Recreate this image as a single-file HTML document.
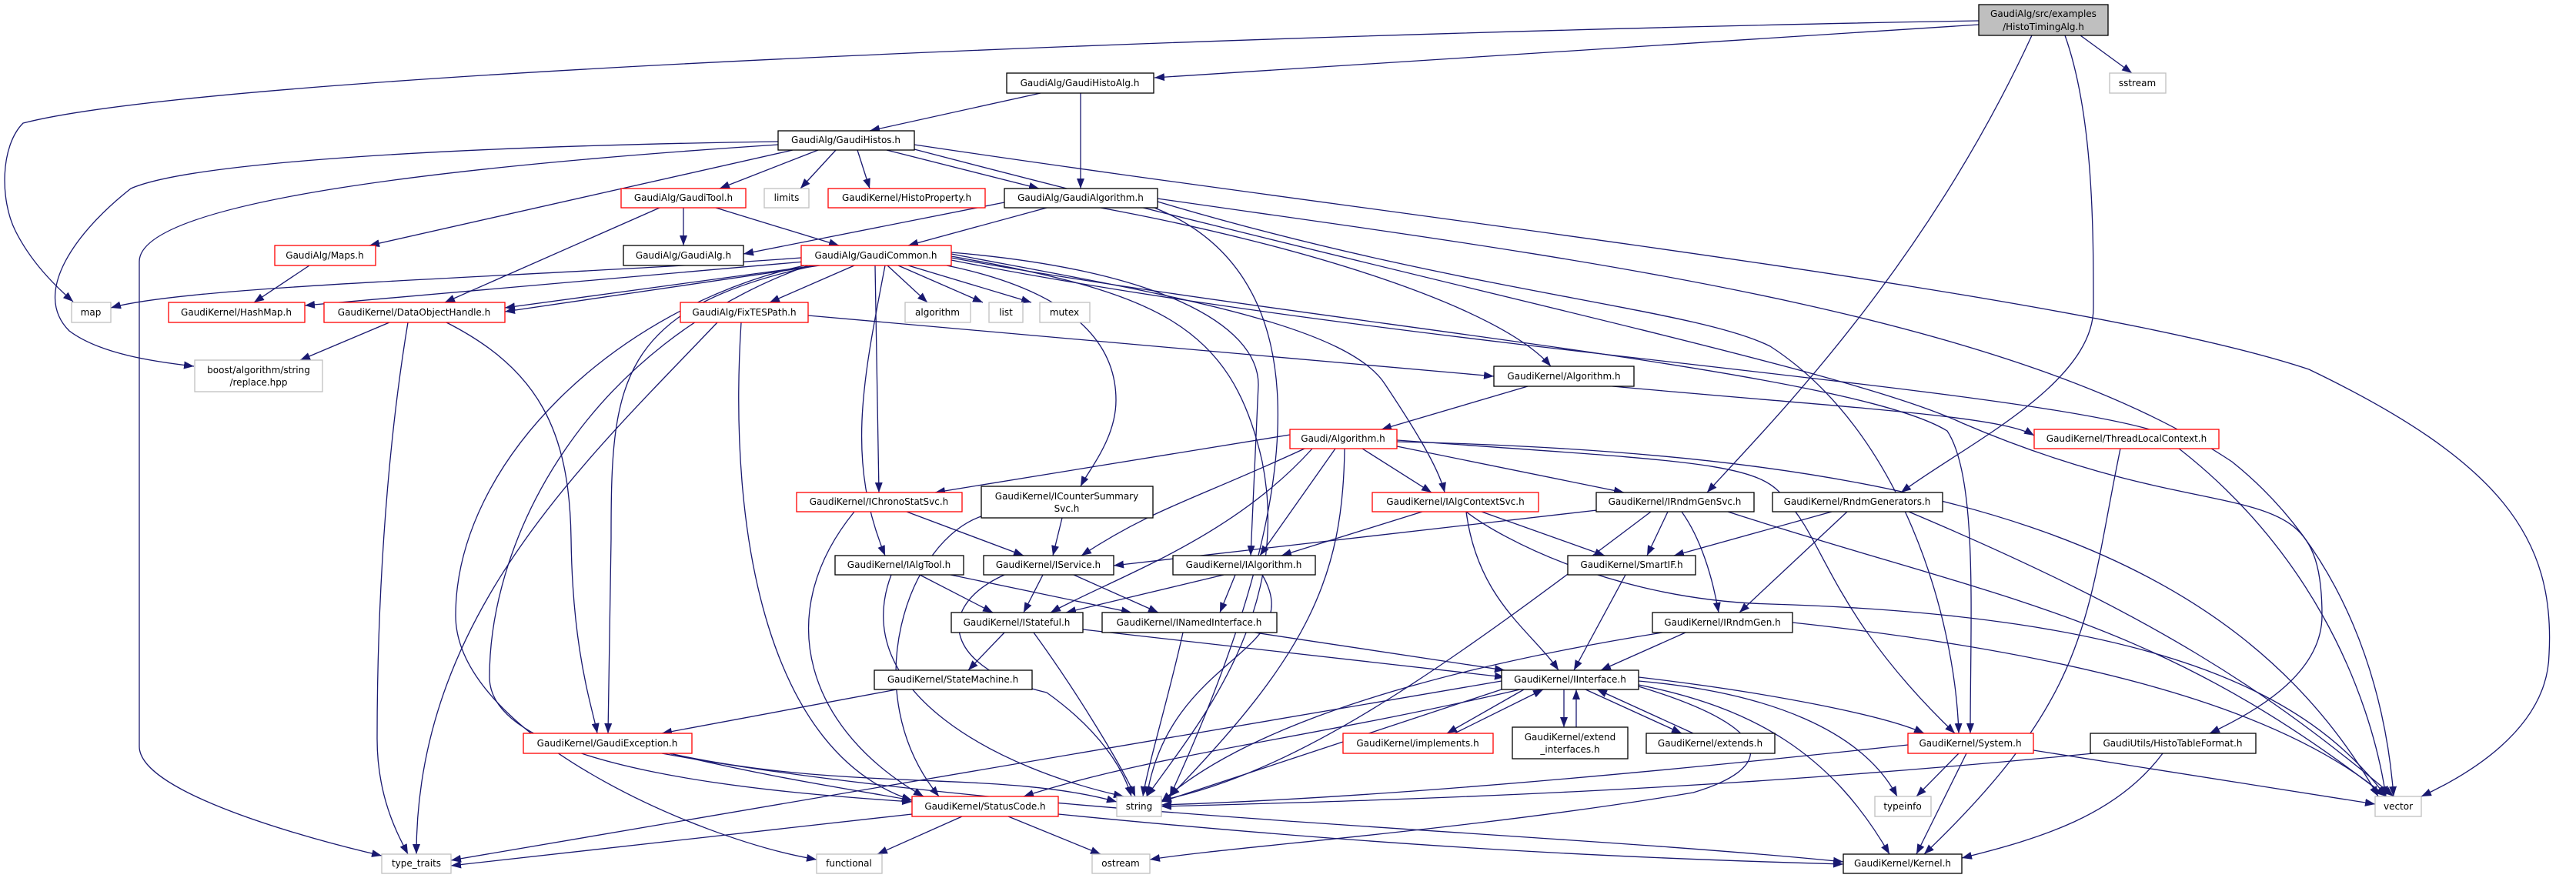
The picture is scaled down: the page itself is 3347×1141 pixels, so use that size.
<!DOCTYPE html>
<html><head><meta charset="utf-8"><style>
html,body{margin:0;padding:0;background:#fff;}
svg{display:block}
text{font-family:"DejaVu Sans","Liberation Sans",sans-serif;font-size:12px;fill:#000;text-anchor:middle;dominant-baseline:central}
.e{fill:none;stroke:#191970;stroke-width:1.3;marker-end:url(#a)}
.n{fill:#fff;stroke:#000;stroke-width:1.3}
.r{fill:#fff;stroke:#ff0000;stroke-width:1.3}
.g{fill:#fff;stroke:#bfbfbf;stroke-width:1.3}
</style></head><body>
<svg width="3347" height="1141" viewBox="0 0 3347 1141" xmlns="http://www.w3.org/2000/svg">
<defs><marker id="a" markerUnits="userSpaceOnUse" markerWidth="14" markerHeight="10" refX="13" refY="5" orient="auto"><path d="M0,0 L13,5 L0,10 z" fill="#191970"/></marker></defs>
<g>
<path class="e" d="M2571,27 C1800,40 300,90 30,160 C0,190 0,260 20,300 C40,340 70,370 95,392"/>
<path class="e" d="M2571,32 L1500,101"/>
<path class="e" d="M2703,46 L2770,95"/>
<path class="e" d="M2640,46 C2500,350 2300,550 2218,640"/>
<path class="e" d="M2683,46 C2720,150 2720,300 2720,400 C2720,500 2550,580 2470,640"/>
<path class="e" d="M1352,121 L1130,170"/>
<path class="e" d="M1404,121 L1404,245"/>
<path class="e" d="M1011,184 C600,190 250,210 170,245 C100,300 40,380 90,430 C130,460 200,470 252,476"/>
<path class="e" d="M1011,188 C600,215 181,260 181,340 L181,970 C181,1030 400,1090 496,1112"/>
<path class="e" d="M1030,195 L480,319"/>
<path class="e" d="M1063,195 L935,245"/>
<path class="e" d="M1086,195 L1040,245"/>
<path class="e" d="M1114,195 L1130,245"/>
<path class="e" d="M1152,195 L1350,245"/>
<path class="e" d="M1188,188 C1800,280 2700,380 3000,480 C3250,600 3320,700 3312,850 C3310,950 3200,1010 3146,1035"/>
<path class="e" d="M1188,194 C1900,380 2400,480 2550,550 C2900,700 3017,600 3017,800 C3017,880 2920,930 2871,953"/>
<path class="e" d="M888,270 L888,319"/>
<path class="e" d="M930,270 L1090,319"/>
<path class="e" d="M857,270 L578,393"/>
<path class="e" d="M1305,263 L966,330"/>
<path class="e" d="M1360,270 L1180,319"/>
<path class="e" d="M1430,270 C1700,320 1950,400 2015,476"/>
<path class="e" d="M1500,270 C1700,350 1720,600 1520,1035"/>
<path class="e" d="M1504,258 C2000,330 2600,400 2900,600 C3050,720 3100,900 3110,1035"/>
<path class="e" d="M1504,262 C1900,380 2200,400 2300,450 C2470,560 2540,800 2545,953"/>
<path class="e" d="M1041,335 C700,360 250,370 144,400"/>
<path class="e" d="M1045,340 L396,397"/>
<path class="e" d="M1060,345 L656,400"/>
<path class="e" d="M1065,345 L656,405"/>
<path class="e" d="M1110,345 L1000,393"/>
<path class="e" d="M1153,345 L1205,393"/>
<path class="e" d="M1167,345 L1277,393"/>
<path class="e" d="M1180,345 L1340,393"/>
<path class="e" d="M1137,345 L1142,640"/>
<path class="e" d="M1230,345 C1400,380 1450,450 1450,520 C1450,570 1415,610 1404,632"/>
<path class="e" d="M1150,345 C1120,500 1100,600 1150,722"/>
<path class="e" d="M1060,345 C800,400 794,500 794,700 L790,953"/>
<path class="e" d="M1050,345 C760,450 636,700 636,880 C636,1000 1000,1030 1185,1042"/>
<path class="e" d="M1045,345 C800,400 592,600 592,800 C592,950 900,1090 1061,1117"/>
<path class="e" d="M1236,333 C1500,380 1600,420 1640,600 C1680,800 1550,950 1490,1035"/>
<path class="e" d="M1236,328 C1500,350 1635,420 1635,500 L1625,722"/>
<path class="e" d="M1236,330 C1500,380 1750,420 1800,500 C1840,560 1870,610 1877,640"/>
<path class="e" d="M1236,335 C1700,420 2400,480 2530,560 C2570,620 2560,800 2560,953"/>
<path class="e" d="M1236,338 C1800,450 2600,500 2800,560 C3000,700 3080,900 3100,1035"/>
<path class="e" d="M402,345 L330,393"/>
<path class="e" d="M506,419 L390,468"/>
<path class="e" d="M580,419 C700,480 740,560 742,700 C744,850 770,920 776,953"/>
<path class="e" d="M530,419 C500,600 490,800 490,960 C490,1040 520,1090 530,1110"/>
<path class="e" d="M1050,410 L1941,489"/>
<path class="e" d="M932,419 C760,600 541,800 541,1110"/>
<path class="e" d="M963,419 C945,700 1000,980 1185,1040"/>
<path class="e" d="M1985,502 L1795,558"/>
<path class="e" d="M2095,502 C2400,530 2600,540 2643,566"/>
<path class="e" d="M1676,565 L1215,640"/>
<path class="e" d="M1695,583 C1550,650 1500,660 1405,722"/>
<path class="e" d="M1705,583 C1600,700 1450,750 1365,796"/>
<path class="e" d="M1735,583 L1637,722"/>
<path class="e" d="M1747,583 C1745,750 1700,850 1520,1035"/>
<path class="e" d="M1770,583 L1860,640"/>
<path class="e" d="M1815,580 L2110,640"/>
<path class="e" d="M1815,572 C2200,600 2290,600 2320,650 C2370,700 2380,800 2540,953"/>
<path class="e" d="M1815,574 C2500,590 2900,700 3090,1035"/>
<path class="e" d="M2755,583 C2710,800 2720,900 2500,1110"/>
<path class="e" d="M1178,665 L1330,722"/>
<path class="e" d="M1110,665 C1000,800 1050,950 1200,1035"/>
<path class="e" d="M1380,673 L1368,722"/>
<path class="e" d="M1278,670 C1180,700 1110,900 1220,1035"/>
<path class="e" d="M1848,665 L1665,722"/>
<path class="e" d="M1905,665 C1920,780 1990,820 2025,871"/>
<path class="e" d="M1925,665 L2085,722"/>
<path class="e" d="M1905,665 C1950,700 2100,780 2300,785 C2800,800 3000,900 3100,1035"/>
<path class="e" d="M2075,663 L1447,735"/>
<path class="e" d="M2167,665 L2140,722"/>
<path class="e" d="M2185,665 C2210,700 2225,750 2233,796"/>
<path class="e" d="M2145,665 C1900,850 1700,1000 1509,1040"/>
<path class="e" d="M2245,665 C2600,780 2800,800 3100,1035"/>
<path class="e" d="M2380,665 L2175,722"/>
<path class="e" d="M2400,665 L2260,796"/>
<path class="e" d="M2480,665 C2800,800 2950,900 3110,1035"/>
<path class="e" d="M1195,747 L1290,796"/>
<path class="e" d="M1235,747 L1470,796"/>
<path class="e" d="M1158,747 C1100,900 1300,1000 1460,1035"/>
<path class="e" d="M1355,747 L1330,796"/>
<path class="e" d="M1395,747 L1505,796"/>
<path class="e" d="M1305,747 C1210,790 1230,870 1360,900 C1430,950 1460,1000 1470,1035"/>
<path class="e" d="M1590,747 L1385,796"/>
<path class="e" d="M1605,747 L1585,796"/>
<path class="e" d="M1640,747 C1700,850 1520,850 1490,1035"/>
<path class="e" d="M2112,747 L2045,871"/>
<path class="e" d="M1305,822 L1258,871"/>
<path class="e" d="M1343,822 C1400,900 1460,1000 1475,1035"/>
<path class="e" d="M1407,818 L1955,880"/>
<path class="e" d="M1537,822 C1520,900 1490,1000 1485,1035"/>
<path class="e" d="M1630,822 L1955,871"/>
<path class="e" d="M2190,822 L2080,871"/>
<path class="e" d="M2160,822 C1800,880 1600,960 1509,1042"/>
<path class="e" d="M2329,809 C2800,860 3000,950 3100,1035"/>
<path class="e" d="M1165,896 L860,953"/>
<path class="e" d="M1980,896 L1880,953"/>
<path class="e" d="M1890,953 L2005,896"/>
<path class="e" d="M2032,896 L2032,945"/>
<path class="e" d="M2048,945 L2048,896"/>
<path class="e" d="M2060,896 L2185,953"/>
<path class="e" d="M2200,953 L2075,896"/>
<path class="e" d="M2129,880 C2300,900 2450,930 2500,953"/>
<path class="e" d="M2129,885 C2300,900 2420,950 2465,1035"/>
<path class="e" d="M2129,890 C2280,920 2380,980 2455,1110"/>
<path class="e" d="M2129,892 C2320,950 2300,1000 2200,1030 C1900,1080 1600,1100 1494,1117"/>
<path class="e" d="M1960,893 L1509,1042"/>
<path class="e" d="M1975,896 C1700,960 1500,980 1330,1035"/>
<path class="e" d="M1951,885 L586,1118"/>
<path class="e" d="M870,979 C1000,1010 1100,1025 1185,1040"/>
<path class="e" d="M870,979 C1100,1030 1300,1000 1451,1042"/>
<path class="e" d="M860,979 C1300,1060 2000,1080 2395,1120"/>
<path class="e" d="M2545,979 L2490,1035"/>
<path class="e" d="M2555,979 L2490,1110"/>
<path class="e" d="M2642,975 L3086,1045"/>
<path class="e" d="M2479,968 C2000,1020 1700,1040 1509,1046"/>
<path class="e" d="M2720,979 C2200,1030 1800,1040 1509,1048"/>
<path class="e" d="M2810,979 C2750,1060 2650,1090 2549,1115"/>
<path class="e" d="M1250,1061 L1140,1110"/>
<path class="e" d="M1310,1061 L1430,1110"/>
<path class="e" d="M1185,1058 L586,1125"/>
<path class="e" d="M1375,1058 C1800,1100 2100,1115 2395,1123"/>
</g>
<g>
<rect x="2571" y="6" width="168" height="40" fill="#bfbfbf" stroke="#000" stroke-width="1.3"/>
<text x="2655" y="18">GaudiAlg/src/examples</text><text x="2655" y="35">/HistoTimingAlg.h</text>
<rect class="n" x="1308" y="95" width="191" height="26"/><text x="1403" y="108">GaudiAlg/GaudiHistoAlg.h</text>
<rect class="g" x="2741" y="95" width="73" height="26"/><text x="2777" y="108">sstream</text>
<rect class="n" x="1011" y="170" width="177" height="25"/><text x="1099" y="182">GaudiAlg/GaudiHistos.h</text>
<rect class="r" x="807" y="245" width="162" height="25"/><text x="888" y="257">GaudiAlg/GaudiTool.h</text>
<rect class="g" x="993" y="245" width="58" height="25"/><text x="1022" y="257">limits</text>
<rect class="r" x="1076" y="245" width="204" height="25"/><text x="1178" y="257">GaudiKernel/HistoProperty.h</text>
<rect class="n" x="1305" y="245" width="199" height="25"/><text x="1404" y="257">GaudiAlg/GaudiAlgorithm.h</text>
<rect class="r" x="357" y="319" width="131" height="26"/><text x="422" y="332">GaudiAlg/Maps.h</text>
<rect class="n" x="810" y="319" width="156" height="26"/><text x="888" y="332">GaudiAlg/GaudiAlg.h</text>
<rect class="r" x="1041" y="319" width="195" height="26"/><text x="1138" y="332">GaudiAlg/GaudiCommon.h</text>
<rect class="g" x="93" y="393" width="51" height="26"/><text x="118" y="406">map</text>
<rect class="r" x="219" y="393" width="177" height="26"/><text x="307" y="406">GaudiKernel/HashMap.h</text>
<rect class="r" x="421" y="393" width="235" height="26"/><text x="538" y="406">GaudiKernel/DataObjectHandle.h</text>
<rect class="r" x="884" y="393" width="166" height="26"/><text x="967" y="406">GaudiAlg/FixTESPath.h</text>
<rect class="g" x="1176" y="393" width="85" height="26"/><text x="1218" y="406">algorithm</text>
<rect class="g" x="1285" y="393" width="44" height="26"/><text x="1307" y="406">list</text>
<rect class="g" x="1351" y="393" width="65" height="26"/><text x="1383" y="406">mutex</text>
<rect class="g" x="253" y="468" width="166" height="41"/><text x="336" y="481">boost/algorithm/string</text><text x="336" y="497">/replace.hpp</text>
<rect class="n" x="1941" y="476" width="182" height="26"/><text x="2032" y="489">GaudiKernel/Algorithm.h</text>
<rect class="r" x="1676" y="558" width="139" height="25"/><text x="1745" y="570">Gaudi/Algorithm.h</text>
<rect class="r" x="2643" y="558" width="240" height="25"/><text x="2763" y="570">GaudiKernel/ThreadLocalContext.h</text>
<rect class="r" x="1035" y="640" width="215" height="25"/><text x="1142" y="652">GaudiKernel/IChronoStatSvc.h</text>
<rect class="n" x="1275" y="632" width="223" height="41"/><text x="1386" y="645">GaudiKernel/ICounterSummary</text><text x="1386" y="661">Svc.h</text>
<rect class="r" x="1783" y="640" width="216" height="25"/><text x="1891" y="652">GaudiKernel/IAlgContextSvc.h</text>
<rect class="n" x="2074" y="640" width="205" height="25"/><text x="2176" y="652">GaudiKernel/IRndmGenSvc.h</text>
<rect class="n" x="2303" y="640" width="221" height="25"/><text x="2413" y="652">GaudiKernel/RndmGenerators.h</text>
<rect class="n" x="1085" y="722" width="167" height="25"/><text x="1168" y="734">GaudiKernel/IAlgTool.h</text>
<rect class="n" x="1278" y="722" width="169" height="25"/><text x="1362" y="734">GaudiKernel/IService.h</text>
<rect class="n" x="1524" y="722" width="185" height="25"/><text x="1616" y="734">GaudiKernel/IAlgorithm.h</text>
<rect class="n" x="2037" y="722" width="166" height="25"/><text x="2120" y="734">GaudiKernel/SmartIF.h</text>
<rect class="n" x="1236" y="796" width="171" height="26"/><text x="1321" y="809">GaudiKernel/IStateful.h</text>
<rect class="n" x="1432" y="796" width="227" height="26"/><text x="1545" y="809">GaudiKernel/INamedInterface.h</text>
<rect class="n" x="2147" y="796" width="182" height="26"/><text x="2238" y="809">GaudiKernel/IRndmGen.h</text>
<rect class="n" x="1136" y="871" width="205" height="25"/><text x="1238" y="883">GaudiKernel/StateMachine.h</text>
<rect class="n" x="1951" y="871" width="178" height="25"/><text x="2040" y="883">GaudiKernel/IInterface.h</text>
<rect class="r" x="1745" y="953" width="195" height="26"/><text x="1842" y="966">GaudiKernel/implements.h</text>
<rect class="n" x="1965" y="945" width="150" height="41"/><text x="2040" y="958">GaudiKernel/extend</text><text x="2040" y="974">_interfaces.h</text>
<rect class="n" x="2139" y="953" width="167" height="26"/><text x="2222" y="966">GaudiKernel/extends.h</text>
<rect class="r" x="680" y="953" width="219" height="26"/><text x="789" y="966">GaudiKernel/GaudiException.h</text>
<rect class="r" x="2479" y="953" width="163" height="26"/><text x="2560" y="966">GaudiKernel/System.h</text>
<rect class="n" x="2716" y="953" width="215" height="26"/><text x="2823" y="966">GaudiUtils/HistoTableFormat.h</text>
<rect class="r" x="1185" y="1035" width="190" height="26"/><text x="1280" y="1048">GaudiKernel/StatusCode.h</text>
<rect class="g" x="1451" y="1035" width="58" height="26"/><text x="1480" y="1048">string</text>
<rect class="g" x="2436" y="1035" width="73" height="26"/><text x="2472" y="1048">typeinfo</text>
<rect class="g" x="3086" y="1035" width="60" height="26"/><text x="3116" y="1048">vector</text>
<rect class="g" x="496" y="1110" width="90" height="25"/><text x="541" y="1122">type_traits</text>
<rect class="g" x="1061" y="1110" width="85" height="25"/><text x="1103" y="1122">functional</text>
<rect class="g" x="1419" y="1110" width="75" height="25"/><text x="1456" y="1122">ostream</text>
<rect class="n" x="2395" y="1110" width="154" height="25"/><text x="2472" y="1122">GaudiKernel/Kernel.h</text>
</g>
</svg>
</body></html>
